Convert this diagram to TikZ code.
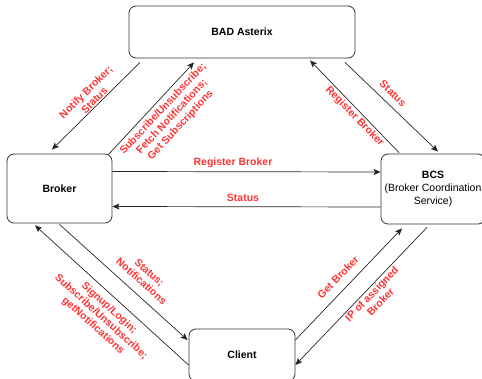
\documentclass[tikz,border=0pt]{standalone}
\usepackage{fontspec}
\setmainfont{Liberation Sans}
\usetikzlibrary{arrows.meta}
\definecolor{lblred}{HTML}{FF3333}
\tikzset{
  box/.style={draw=black!80, line width=0.8pt, rounded corners=7pt, align=center, inner sep=2pt, font=\fontsize{10.5}{13}\selectfont},
  lbl/.style={text=lblred, align=center, inner sep=0pt, font=\bfseries\fontsize{10.5}{12}\selectfont},
  msg/.style={-{Stealth[length=7pt,width=6pt,inset=1.5pt]}, line width=0.7pt, draw=black!85}
}

\begin{document}
\begin{tikzpicture}[x=1pt,y=1pt]
            \useasboundingbox (0,0) rectangle (482,-379);

            \node[box, minimum width=226pt, minimum height=52pt] (bad) at (242,-32) {\bfseries BAD Asterix};
            \node[box, minimum width=105pt, minimum height=69pt] (broker) at (59.5,-188.5) {\bfseries Broker};
            \node[box, minimum width=104pt, minimum height=70pt] (bcs) at (433,-189) {\textbf{BCS}\\(Broker Coordination\\Service)};
            \node[box, minimum width=106pt, minimum height=52pt] (client) at (242,-355) {\bfseries Client};

            \draw[msg] ([xshift=-102pt,yshift=-4pt]bad.south) -- ([xshift=-7.5pt,yshift=4pt]broker.north);
            \draw[msg] ([xshift=-4pt,yshift=-1pt]broker.north east) -- ([xshift=-48pt,yshift=-4pt]bad.south);
            \draw[msg] ([xshift=-34pt,yshift=1pt]bcs.north) -- ([xshift=68pt,yshift=-2pt]bad.south);
            \draw[msg] ([xshift=103pt,yshift=-4pt]bad.south) -- ([xshift=5pt,yshift=2pt]bcs.north);
            \draw[msg] ([yshift=17pt]broker.east) -- ([yshift=17pt]bcs.west);
            \draw[msg] ([yshift=-18pt]bcs.west) -- ([yshift=-18pt]broker.east);
            \draw[msg] ([yshift=-10pt]client.west) -- ([xshift=-24.5pt,yshift=-2pt]broker.south);
            \draw[msg] ([yshift=-1pt]broker.south) -- ([xshift=-1pt,yshift=15pt]client.west);
            \draw[msg] ([yshift=15pt]client.east) -- ([xshift=-31pt,yshift=-4pt]bcs.south);
            \draw[msg] ([xshift=-6pt,yshift=-3pt]bcs.south) -- ([yshift=-10pt]client.east);

            \node[lbl, rotate=45] (lnotify) at (90,-96) {Notify Broker;\\Status};
            \node[lbl, rotate=47] (lsubscribe) at (172,-117) {Subscribe/Unsubscribe;\\Fetch Notifications;\\Get Subscriptions};
            \node[lbl, rotate=-46] (lregbad) at (354.5,-116.5) {Register Broker};
            \node[lbl, rotate=-44] (lstatusbad) at (393,-93.5) {Status};
            \node[lbl] (lregbcs) at (233,-163) {Register Broker};
            \node[lbl] (lstatusbcs) at (243,-198) {Status};
            \node[lbl, rotate=-42] (lnotif) at (145.5,-277) {Status;\\Notifications};
            \node[lbl, rotate=-42] (lsignup) at (101,-317) {Signup/Login;\\Subscribe/Unsubscribe;\\getNotifications};
            \node[lbl, rotate=46] (lgetbroker) at (338,-277) {Get Broker};
            \node[lbl, rotate=46] (lip) at (376,-298) {IP of assigned\\Broker};
        \end{tikzpicture}
\end{document}
